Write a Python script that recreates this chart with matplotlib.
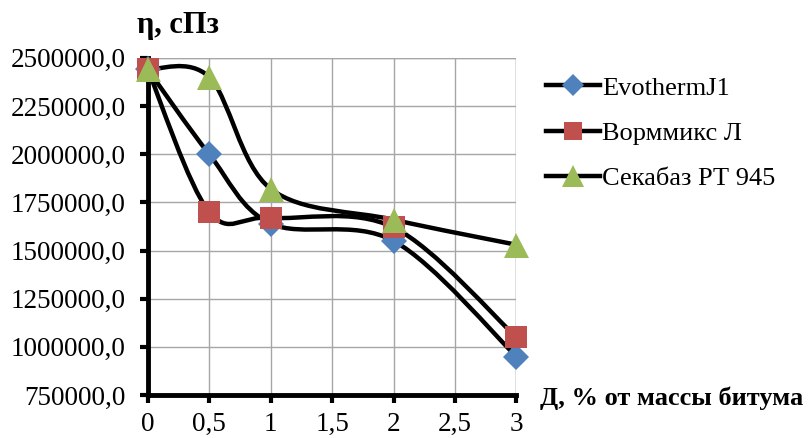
"""
Вязкость битума в зависимости от содержания добавки (сглаженные линии как в Excel).
"""

import matplotlib.pyplot as plt
import numpy as np
from matplotlib.path import Path
from matplotlib.patches import PathPatch
from matplotlib.lines import Line2D

plt.rcParams["font.family"] = ["Liberation Serif", "DejaVu Serif"]

# данные
dose = [0, 0.5, 1, 2, 3]
evotherm = [2440000, 2000000, 1640000, 1550000, 950000]
wormix = [2440000, 1700000, 1670000, 1620000, 1050000]
sekabaz = [2440000, 2400000, 1820000, 1660000, 1530000]

series_names = ["EvothermJ1", "Ворммикс Л", "Секабаз РТ 945"]
series_markers = ["D", "s", "^"]
series_colors = ["#4F81BD", "#C0504D", "#9BBB59"]
marker_sizes = [13, 16, 18]

x_ticks = [0, 0.5, 1, 1.5, 2, 2.5, 3]
x_tick_labels = ["0", "0,5", "1", "1,5", "2", "2,5", "3"]
y_ticks = [750000, 1000000, 1250000, 1500000, 1750000, 2000000, 2250000, 2500000]


def smooth_path(xs, ys):
    """Кривая Безье через точки (Catmull-Rom, как сглаживание в Excel)."""
    pts = np.column_stack([xs, ys]).astype(float)
    n = len(pts)
    verts = [pts[0]]
    codes = [Path.MOVETO]
    for i in range(n - 1):
        p0 = pts[max(i - 1, 0)]
        p1 = pts[i]
        p2 = pts[i + 1]
        p3 = pts[min(i + 2, n - 1)]
        c1 = p1 + (p2 - p0) / 6.0
        c2 = p2 - (p3 - p1) / 6.0
        verts += [c1, c2, p2]
        codes += [Path.CURVE4] * 3
    return Path(verts, codes)


fig = plt.figure(figsize=(8.12, 4.38), dpi=100)
ax = fig.add_axes([0.182, 0.098, 0.454, 0.770])

ax.set_xlim(0, 3)
ax.set_ylim(750000, 2500000)

for vals, mk, col, ms in zip([evotherm, wormix, sekabaz], series_markers, series_colors, marker_sizes):
    patch = PathPatch(smooth_path(dose, vals), facecolor="none", edgecolor="black",
                      linewidth=3.2, capstyle="round", joinstyle="round", zorder=3)
    patch.set_clip_on(False)
    ax.add_patch(patch)
    ax.plot(dose, vals, linestyle="none", marker=mk, markersize=ms, color=col,
            markeredgewidth=0, clip_on=False, zorder=4)

ax.set_xticks(x_ticks)
ax.set_xticklabels(x_tick_labels)
ax.set_yticks(y_ticks)
ax.set_yticklabels([f"{v:.1f}".replace(".", ",") for v in y_ticks])

ax.grid(True, color="#A6A6A6", linewidth=1.0, zorder=0)
ax.set_axisbelow(True)
for side in ["top", "right"]:
    ax.spines[side].set_visible(False)
for side in ["left", "bottom"]:
    ax.spines[side].set_linewidth(3.5)
ax.tick_params(axis="both", direction="out", length=6, width=3, labelsize=19.5)
ax.tick_params(axis="y", pad=10)
ax.tick_params(axis="x", pad=6)

# правые и верхние линии сетки
ax.axhline(2500000, color="#A6A6A6", linewidth=1.0, zorder=0)
ax.axvline(3, color="#A6A6A6", linewidth=1.0, zorder=0)

fig.text(0.169, 0.942, "η, сПз", fontsize=22, fontweight="bold", ha="left", va="center")
fig.text(0.665, 0.09, "Д, % от массы битума", fontsize=19, fontweight="bold", ha="left", va="center")

handles = [Line2D([0], [0], color="black", linewidth=3.2, marker=mk, markersize=ms * 0.85,
                  markerfacecolor=col, markeredgewidth=0)
           for mk, col, ms in zip(series_markers, series_colors, marker_sizes)]
fig.legend(handles, series_names, loc="upper left", bbox_to_anchor=(0.659, 0.85),
           frameon=False, fontsize=19, handlelength=2.05, handletextpad=0.1,
           labelspacing=0.82, borderaxespad=0)

fig.savefig("out.png", dpi=100)
